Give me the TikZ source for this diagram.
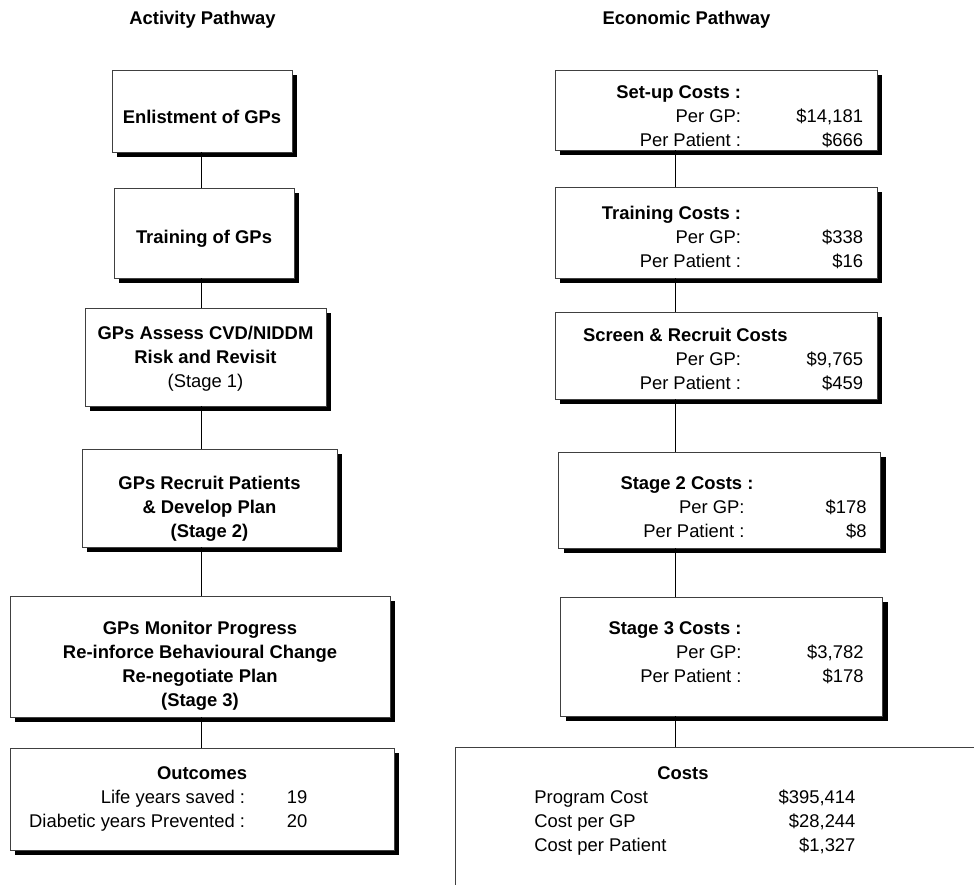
\documentclass[tikz,border=0pt]{standalone}
\usepackage{fontspec}
\setmainfont{Liberation Sans}
\usepackage{array}
\usetikzlibrary{positioning,shadows}
\newcolumntype{R}[1]{>{\raggedleft\arraybackslash}p{#1}}
\newcolumntype{L}[1]{>{\raggedright\arraybackslash}p{#1}}

\begin{document}
\begin{tikzpicture}[
    x=1pt, y=-1pt,
    every node/.style={font=\fontsize{18.4}{24}\selectfont},
    heading/.style={font=\fontsize{18.4}{24}\selectfont\bfseries, anchor=base},
    actbox/.style={rectangle, draw=black!75, line width=0.9pt, fill=white, inner sep=0pt,
        drop shadow={shadow xshift=5pt, shadow yshift=-5pt, opacity=1, fill=black}},
    costbox/.style={rectangle, draw=black!75, line width=0.9pt, inner sep=0pt, anchor=north west},
    link/.style={draw=black, line width=0.9pt}
]

\useasboundingbox (0,0) rectangle (974,884);
\clip (0,0) rectangle (974,884);

% Headings
\node[heading] (acthead) at (202.5,24.5) {Activity Pathway};
\node[heading] (ecohead) at (686.5,24.5) {Economic Pathway};

% Activity pathway
\node[actbox, minimum width=180pt, text height=53pt, text depth=29pt] (enlist) at (202,111)
    {\bfseries Enlistment of GPs};
\node[actbox, minimum width=180pt, text height=55.5pt, text depth=34.5pt] (trainGP) at (204,233)
    {\bfseries Training of GPs};
\node[actbox, minimum width=241pt, text height=31.5pt, text depth=66.5pt] (assess) at (205.5,357)
    {\begin{tabular}[t]{@{}c@{}}
        \textbf{GPs Assess CVD/NIDDM}\\
        \textbf{Risk and Revisit}\\
        (Stage 1)
    \end{tabular}\hspace{6pt}};
\node[actbox, minimum width=255pt, text height=40.5pt, text depth=57.5pt] (recruit) at (209.5,498)
    {\begin{tabular}[t]{@{}c@{}}
        \textbf{GPs Recruit Patients}\\
        \textbf{\& Develop Plan}\\
        \textbf{(Stage 2)}
    \end{tabular}\hspace{14pt}};
\node[actbox, minimum width=380pt, text height=38.5pt, text depth=82.5pt] (monitor) at (200,656.5)
    {\begin{tabular}[t]{@{}c@{}}
        \textbf{GPs Monitor Progress}\\
        \textbf{Re-inforce Behavioural Change}\\
        \textbf{Re-negotiate Plan}\\
        \textbf{(Stage 3)}
    \end{tabular}};
\node[actbox, minimum width=384pt, text height=31.5pt, text depth=70.5pt] (outcome) at (202,799)
    {\begin{tabular}[t]{@{}R{235pt}@{\hspace{42pt}}L{107pt}@{}}
        \multicolumn{2}{c}{\textbf{Outcomes}}\\
        Life years saved : & 19\\
        Diabetic years Prevented : & 20
    \end{tabular}};

% Economic pathway
\node[actbox, minimum width=322pt, text height=28.5pt, text depth=51.5pt] (setup) at (716,110)
    {\begin{tabular}[t]{@{}R{186pt}@{}R{122pt}@{\hspace{14pt}}}
        \textbf{Set-up Costs :} & \\
        Per GP: & \$14,181\\
        Per Patient : & \$666
    \end{tabular}};
\node[actbox, minimum width=322pt, text height=32.5pt, text depth=58.5pt] (training) at (716,232.5)
    {\begin{tabular}[t]{@{}R{186pt}@{}R{122pt}@{\hspace{14pt}}}
        \textbf{Training Costs :} & \\
        Per GP: & \$338\\
        Per Patient : & \$16
    \end{tabular}};
\node[actbox, minimum width=322pt, text height=29.5pt, text depth=57.5pt] (screen) at (716,355.5)
    {\begin{tabular}[t]{@{}R{186pt}@{}R{122pt}@{\hspace{14pt}}}
        \multicolumn{2}{@{\hspace{28pt}}l@{}}{\textbf{Screen \& Recruit Costs}}\\
        Per GP: & \$9,765\\
        Per Patient : & \$459
    \end{tabular}};
\node[actbox, minimum width=322pt, text height=37.5pt, text depth=58.5pt] (stagetwo) at (719.5,500)
    {\begin{tabular}[t]{@{}R{186pt}@{}R{122pt}@{\hspace{14pt}}}
        \multicolumn{2}{@{\hspace{62pt}}l@{}}{\textbf{Stage 2 Costs :}}\\
        Per GP: & \$178\\
        Per Patient : & \$8
    \end{tabular}};
\node[actbox, minimum width=322pt, text height=37.5pt, text depth=81.5pt] (stagethree) at (721.5,656.5)
    {\begin{tabular}[t]{@{}R{181pt}@{}R{122pt}@{\hspace{19pt}}}
        \textbf{Stage 3 Costs :} & \\
        Per GP: & \$3,782\\
        Per Patient : & \$178
    \end{tabular}};
\node[costbox, text height=32.5pt, text depth=200pt] (costs) at (455,747)
    {\begin{tabular}[t]{@{\hspace{79pt}}L{160pt}@{}R{161pt}@{\hspace{200pt}}}
        \multicolumn{2}{@{\hspace{202pt}}l@{}}{\textbf{Costs}}\\
        Program Cost & \$395,414\\
        Cost per GP & \$28,244\\
        Cost per Patient & \$1,327
    \end{tabular}};

% Connectors
\coordinate (lline) at (201,0);
\coordinate (rline) at (675,0);
\draw[link] (enlist.south -| lline) -- (trainGP.north -| lline);
\draw[link] (trainGP.south -| lline) -- (assess.north -| lline);
\draw[link] (assess.south -| lline) -- (recruit.north -| lline);
\draw[link] (recruit.south -| lline) -- (monitor.north -| lline);
\draw[link] (monitor.south -| lline) -- (outcome.north -| lline);

\draw[link] (setup.south -| rline) -- (training.north -| rline);
\draw[link] (training.south -| rline) -- (screen.north -| rline);
\draw[link] (screen.south -| rline) -- (stagetwo.north -| rline);
\draw[link] (stagetwo.south -| rline) -- (stagethree.north -| rline);
\draw[link] (stagethree.south -| rline) -- (costs.north -| rline);

\end{tikzpicture}
\end{document}
